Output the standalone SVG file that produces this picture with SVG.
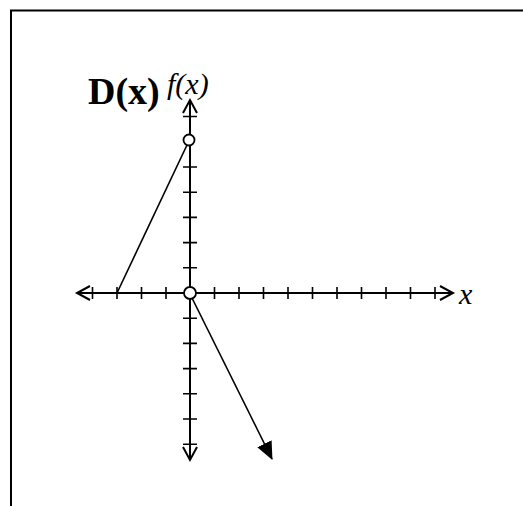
<svg xmlns="http://www.w3.org/2000/svg" width="523" height="506" viewBox="0 0 523 506">
<defs>
<style>
.ax{stroke:#000;stroke-width:2;fill:none}
.tk{stroke:#000;stroke-width:1.6;fill:none}
.ln{stroke:#000;stroke-width:1.6;fill:none}
.oc{stroke:#000;stroke-width:1.8;fill:#fff}
.it{font-family:'Liberation Serif','Times New Roman','DejaVu Serif',serif;font-style:italic}
.bd{font-family:'Liberation Serif','Times New Roman',serif;font-weight:bold}
</style>
<marker id="fill" markerWidth="18" markerHeight="16" refX="17" refY="8" orient="auto" markerUnits="userSpaceOnUse">
<path d="M0,0 L18,8 L0,16 Z" fill="#000"/>
</marker>
</defs>
<rect width="523" height="506" fill="#fff"/>
<g id="frame">
<path d="M11,506 V10.5 H523" fill="none" stroke="#000" stroke-width="2"/>
</g>
<g id="x-axis">
<line class="ax" x1="77" y1="293" x2="453" y2="293"/>
<path class="ax" d="M90,286 L77,293 L90,300"/>
<path class="ax" d="M440,286 L453,293 L440,300"/>
<path class="tk" d="M92.5,287v12M117,287v12M141.5,287v12M166,287v12M214.5,287v12M239,287v12M263.5,287v12M288,287v12M312.5,287v12M337,287v12M361.5,287v12M386,287v12M410.5,287v12M435,287v12"/>
</g>
<g id="y-axis">
<line class="ax" x1="190" y1="100" x2="190" y2="460"/>
<path class="ax" d="M183,113 L190,100 L197,113"/>
<path class="ax" d="M183,447 L190,460 L197,447"/>
<path class="tk" d="M183,116.5h14M183,167h14M183,192.2h14M183,217.4h14M183,242.6h14M183,267.8h14M183,318.2h14M183,343.4h14M183,368.6h14M183,393.8h14M183,419h14M183,444.2h14"/>
</g>
<g id="connectors">
<line class="ln" x1="117" y1="293" x2="187" y2="145"/>
<line class="ln" x1="192" y1="298" x2="272" y2="459" marker-end="url(#fill)"/>
</g>
<g id="points">
<circle class="oc" cx="189" cy="140" r="5.5"/>
<circle class="oc" cx="190" cy="293" r="6"/>
</g>
<g id="labels">
<text class="bd" x="88" y="104" font-size="38">D(x)</text>
<text class="it" x="167" y="94" font-size="30">f(x)</text>
<text class="it" x="459" y="304" font-size="30">x</text>
</g>
</svg>
